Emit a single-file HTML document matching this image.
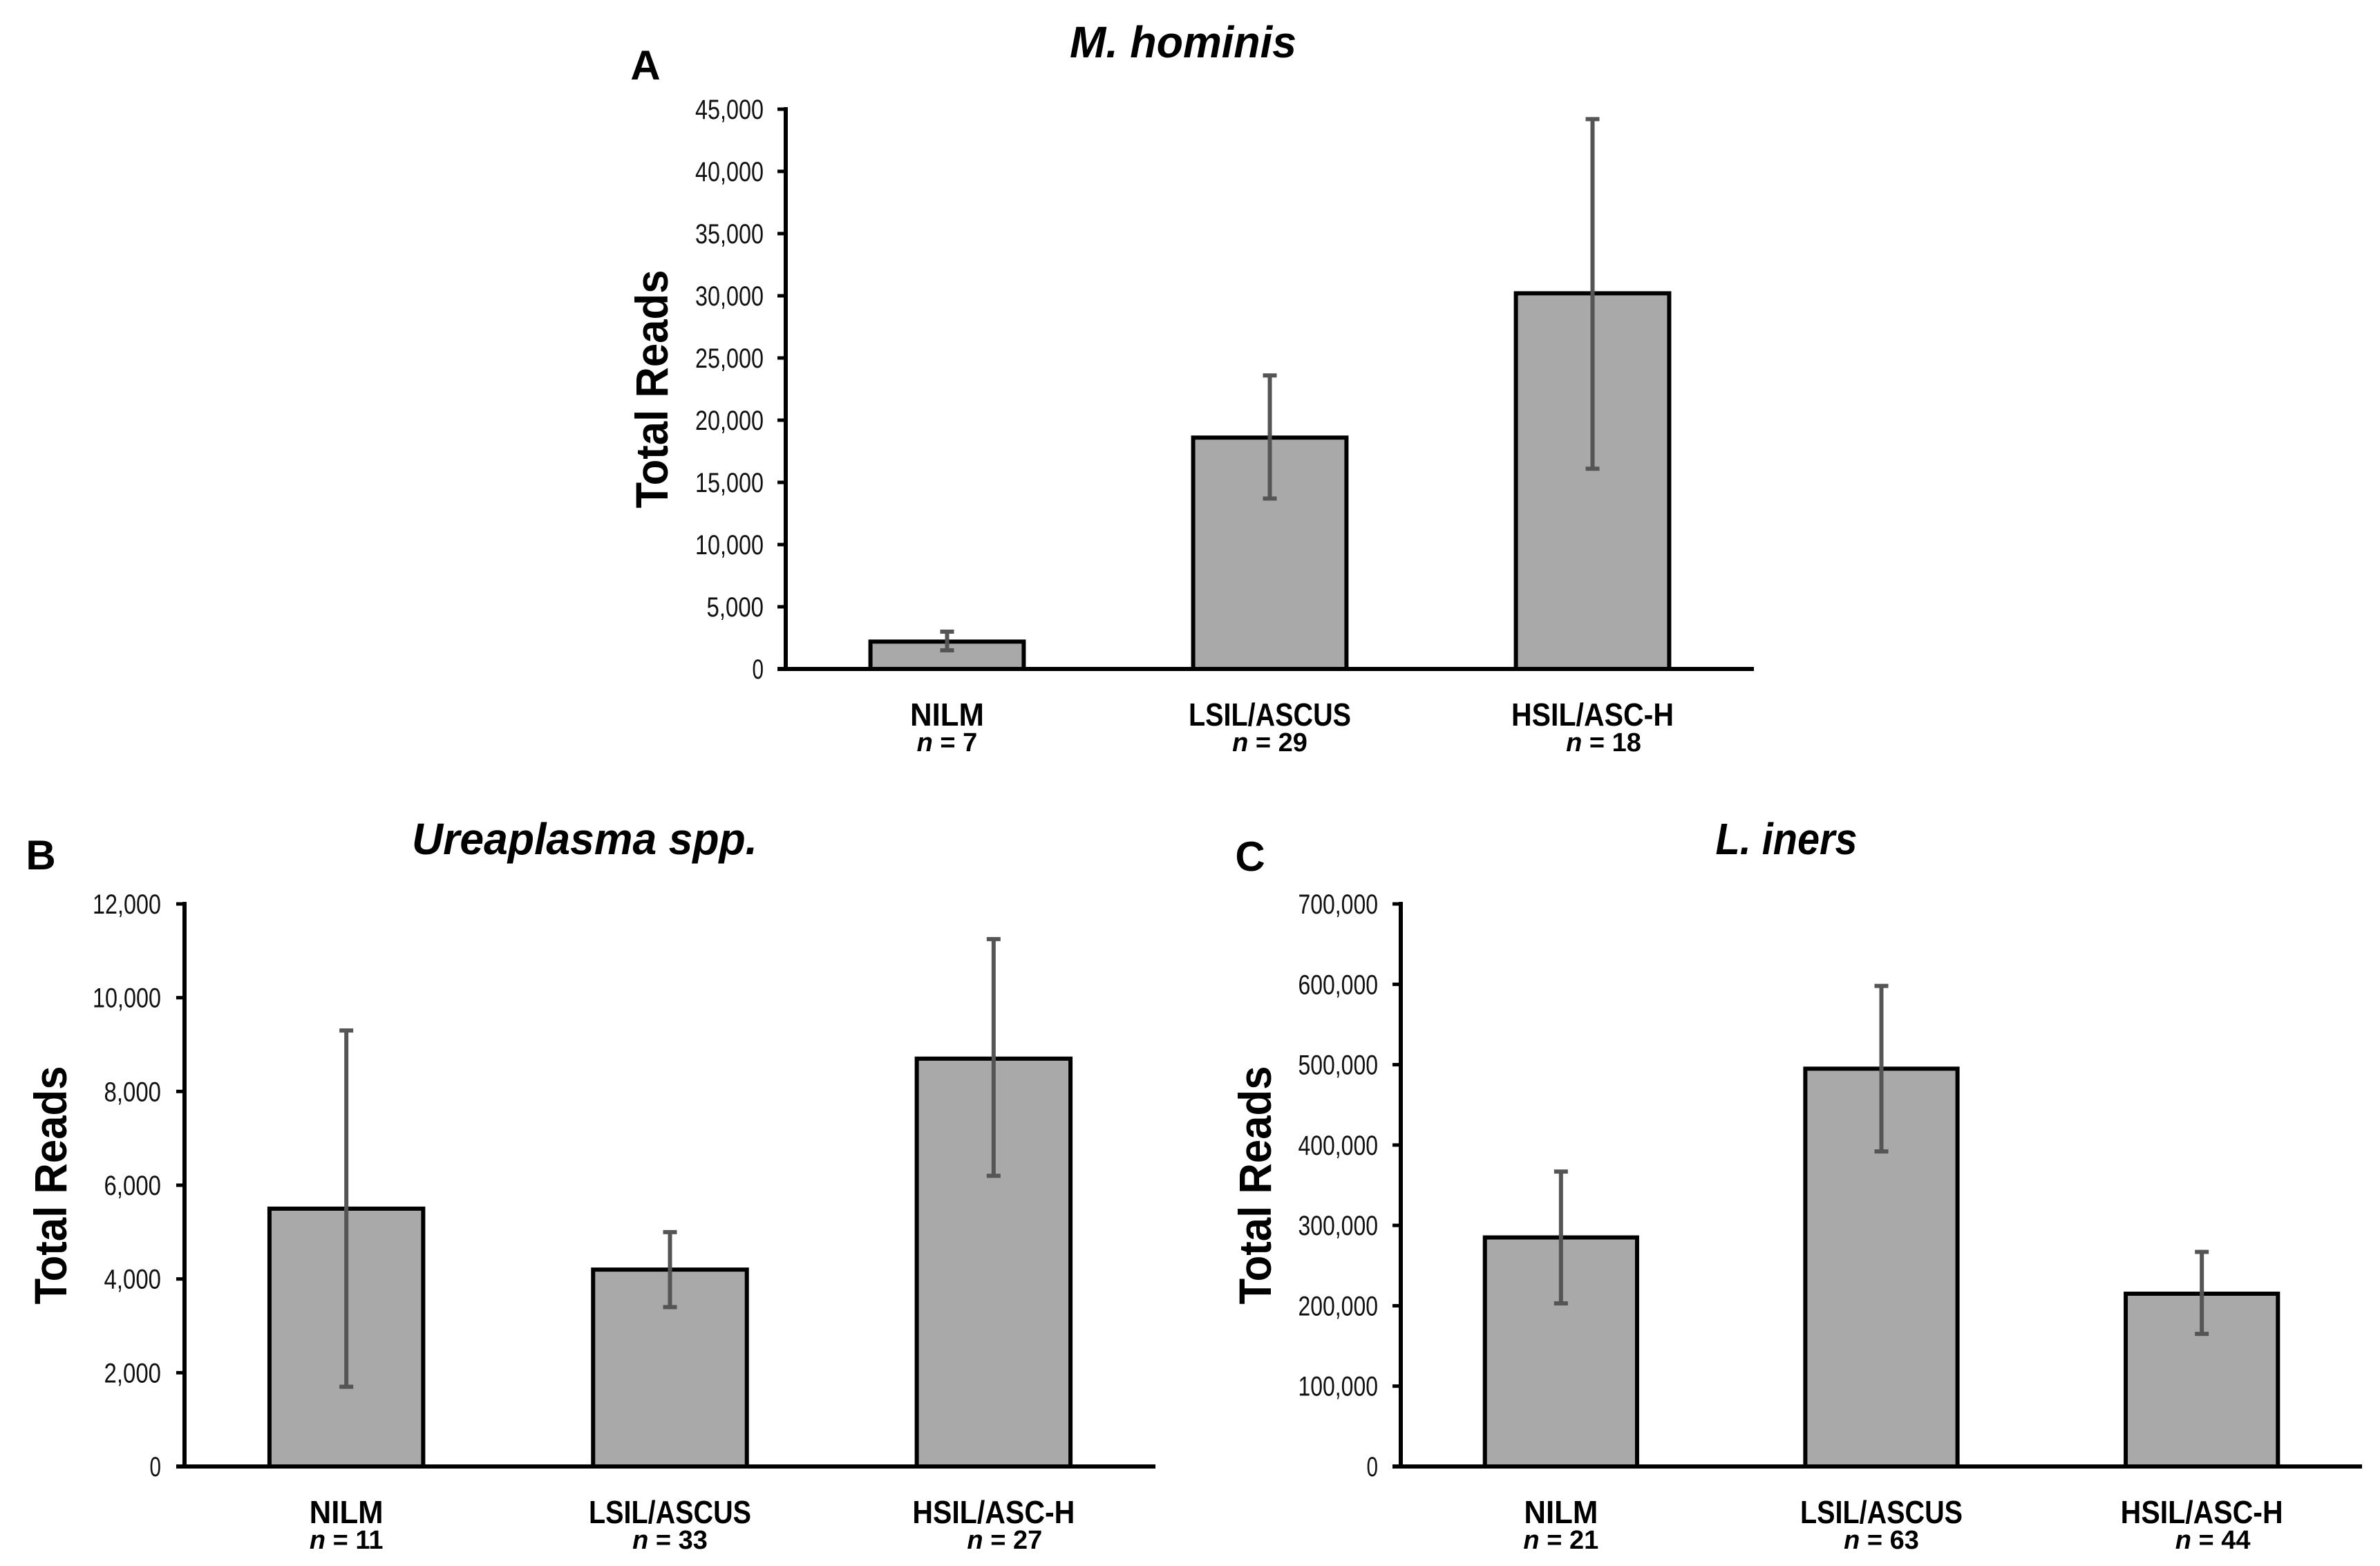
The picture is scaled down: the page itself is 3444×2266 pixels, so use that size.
<!DOCTYPE html>
<html><head><meta charset="utf-8"><style>
html,body{margin:0;padding:0;background:#fff;}
svg{display:block;}
text{font-family:"Liberation Sans",sans-serif;}
</style></head><body>
<svg id="fig" width="3444" height="2266" viewBox="0 0 3444 2266" xmlns="http://www.w3.org/2000/svg">
<rect width="3444" height="2266" fill="#fff"/>
</svg>
<script>
const categories = ["NILM", "LSIL/ASCUS", "HSIL/ASC-H"];
const nA = ["7", "29", "18"];
const nB = ["11", "33", "27"];
const nC = ["21", "63", "44"];
const valuesA = [2200, 18600, 30200];
const lowA = [1500, 13700, 16100];
const highA = [3000, 23600, 44200];
const valuesB = [5500, 4200, 8700];
const lowB = [1700, 3400, 6200];
const highB = [9300, 5000, 11250];
const valuesC = [285000, 495000, 215000];
const lowC = [203000, 392000, 165000];
const highC = [367000, 598000, 267000];
const ticksA = [0, 5000, 10000, 15000, 20000, 25000, 30000, 35000, 40000, 45000];
const ticksB = [0, 2000, 4000, 6000, 8000, 10000, 12000];
const ticksC = [0, 100000, 200000, 300000, 400000, 500000, 600000, 700000];

const NS = "http://www.w3.org/2000/svg";
const svg = document.getElementById("fig");
function mk(tag, attrs, parent, txt) {
  const e = document.createElementNS(NS, tag);
  for (const k in attrs) e.setAttribute(k, attrs[k]);
  if (txt !== undefined) e.textContent = txt;
  (parent || svg).appendChild(e);
  return e;
}
function fmt(v) { return v.toLocaleString("en-US"); }

function panel(cfg) {
  const g = mk("g", {});
  
  
  const x0 = cfg.x0, x1 = cfg.x1, yTop = cfg.yTop, yZero = cfg.yZero;
  const maxV = cfg.ticks[cfg.ticks.length - 1];
  const yS = v => yZero - (v / maxV) * (yZero - yTop);
  const band = (x1 - x0) / cfg.cats.length;
  const xC = i => x0 + band * (i + 0.5);

  const L = mk("text", {x: cfg.letterX, y: cfg.letterY, "font-size": 60, "font-weight": "bold", "text-anchor": "middle"}, g, cfg.letter);
  
  
  const T = mk("text", {x: cfg.titleX, y: cfg.titleY, "font-size": 64, "font-weight": "bold", "font-style": "italic", "text-anchor": "middle", textLength: cfg.titleW, lengthAdjust: "spacingAndGlyphs"}, g, cfg.title);
  
  
  const Y = mk("text", {x: 0, y: 0, "font-size": 66, "font-weight": "bold", "text-anchor": "middle", transform: "translate(" + (cfg.ytX + 4) + "," + ((yTop + yZero) / 2) + ") rotate(-90)", textLength: 345, lengthAdjust: "spacingAndGlyphs"}, g, "Total Reads");
  
  

  cfg.ticks.forEach(t => {
    const y = yS(t);
    const tk = mk("line", {x1: x0 - 12, x2: x0, y1: y, y2: y, stroke: "#000", "stroke-width": 5}, g);
    
    
    const s = fmt(t);
    const tl = mk("text", {x: cfg.tickRight, y: y + 14, "font-size": 40, "text-anchor": "end", fill: "#111", textLength: s.length * 16.5, lengthAdjust: "spacingAndGlyphs"}, g, s);
    
    
  });

  const bw = band * 0.475;
  cfg.values.forEach((v, i) => {
    const cx = xC(i), y = yS(v);
    const b = mk("rect", {x: cx - bw / 2, y: y, width: bw, height: yZero - y, fill: "#a9a9a9", stroke: "#000", "stroke-width": 6}, g);
    
    
    const yl = yS(cfg.low[i]), yh = yS(cfg.high[i]);
    const eg = mk("g", {stroke: "#555", "stroke-width": 6}, g);
    
    
    mk("line", {x1: cx, x2: cx, y1: yl, y2: yh}, eg);
    mk("line", {x1: cx - 10, x2: cx + 10, y1: yl, y2: yl}, eg);
    mk("line", {x1: cx - 10, x2: cx + 10, y1: yh, y2: yh}, eg);

    const cl = mk("text", {x: cx, y: yZero + 82, "font-size": 46, "font-weight": "bold", "text-anchor": "middle", textLength: cfg.cats[i].length * 23.5 + (cfg.cats[i] === "NILM" ? 13 : 0), lengthAdjust: "spacingAndGlyphs"}, g, cfg.cats[i]);
    
    
    const nl = mk("text", {x: cx + (i === 2 ? 16 : 0), y: yZero + 119, "font-size": 38, "font-weight": "bold", "text-anchor": "middle"}, g);
    
    
    mk("tspan", {"font-style": "italic"}, nl, "n");
    mk("tspan", {}, nl, " = " + cfg.ns[i]);
  });

  const ya = mk("line", {x1: x0, x2: x0, y1: yTop - 3, y2: yZero + 3, stroke: "#000", "stroke-width": 6}, g);
  
  
  const xa = mk("line", {x1: x0 - 12, x2: x1, y1: yZero, y2: yZero, stroke: "#000", "stroke-width": 6}, g);
  
  
}

panel({id: "panel-a-m-hominis", letter: "A", letterX: 934, letterY: 115, title: "M. hominis", titleX: 1712, titleY: 83, titleW: 328,
  x0: 1137, x1: 2538, yTop: 158, yZero: 968, ticks: ticksA, tickRight: 1105, ytX: 962,
  cats: categories, ns: nA, values: valuesA, low: lowA, high: highA});
panel({id: "panel-b-ureaplasma", letter: "B", letterX: 59, letterY: 1258, title: "Ureaplasma spp.", titleX: 846, titleY: 1236, titleW: 500,
  x0: 267, x1: 1672, yTop: 1308, yZero: 2122, ticks: ticksB, tickRight: 233, ytX: 92,
  cats: categories, ns: nB, values: valuesB, low: lowB, high: highB});
panel({id: "panel-c-l-iners", letter: "C", letterX: 1809, letterY: 1260, title: "L. iners", titleX: 2585, titleY: 1236, titleW: 205,
  x0: 2027, x1: 3418, yTop: 1308, yZero: 2122, ticks: ticksC, tickRight: 1994, ytX: 1835,
  cats: categories, ns: nC, values: valuesC, low: lowC, high: highC});
</script>
</body></html>
